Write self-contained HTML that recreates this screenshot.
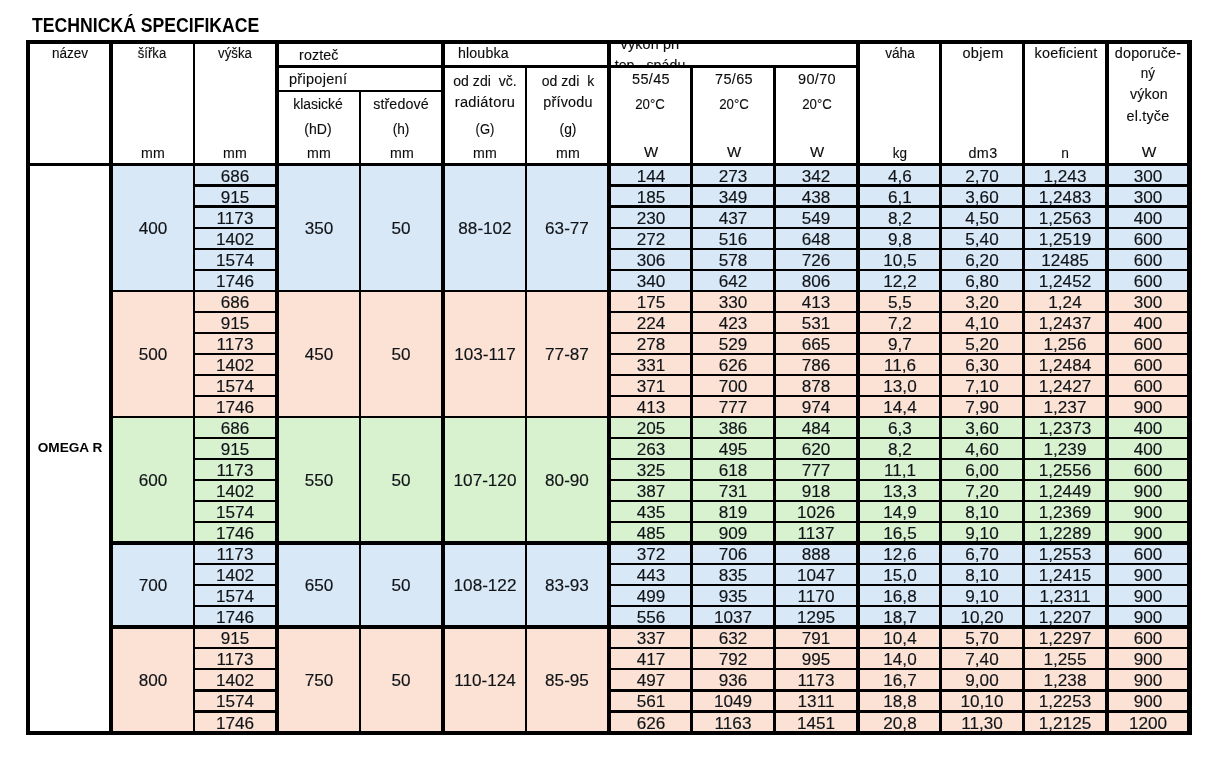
<!DOCTYPE html>
<html lang="cs">
<head>
<meta charset="utf-8">
<title>Technická specifikace</title>
<style>
html,body{margin:0;padding:0;background:#fff}
body{width:1232px;height:762px;position:relative;overflow:hidden;font-family:"Liberation Sans",sans-serif;color:#111}
#sheet{position:absolute;left:0;top:0;width:1232px;height:762px;will-change:transform}
i{position:absolute;display:block}
.t{position:absolute;display:block;font-weight:normal;font-style:normal;white-space:nowrap;color:#0c0c0c}
.t{-webkit-text-stroke:0.12px #0c0c0c}
.t.bd{font-weight:bold;color:#000;-webkit-text-stroke:0}
.t.d{color:#101418;-webkit-text-stroke:0.15px #101418}
.clip{position:absolute;overflow:hidden}
</style>
</head>
<body>
<div id="sheet">
<i style="left:113px;top:163px;width:1074px;height:128px;background:#d9e8f7"></i>
<i style="left:113px;top:290px;width:1074px;height:127px;background:#fce2d5"></i>
<i style="left:113px;top:416px;width:1074px;height:126px;background:#d8f1cf"></i>
<i style="left:113px;top:541px;width:1074px;height:85px;background:#d9e8f7"></i>
<i style="left:113px;top:625px;width:1074px;height:107px;background:#fce2d5"></i>
<i style="left:26px;top:40px;width:4px;height:695px;background:#000"></i>
<i style="left:109px;top:40px;width:4px;height:695px;background:#000"></i>
<i style="left:193px;top:40px;width:2px;height:695px;background:#000"></i>
<i style="left:275px;top:40px;width:4px;height:695px;background:#000"></i>
<i style="left:441px;top:40px;width:4px;height:695px;background:#000"></i>
<i style="left:607px;top:40px;width:4px;height:695px;background:#000"></i>
<i style="left:856px;top:40px;width:4px;height:695px;background:#000"></i>
<i style="left:939px;top:40px;width:3px;height:695px;background:#000"></i>
<i style="left:1022px;top:40px;width:3px;height:695px;background:#000"></i>
<i style="left:1105px;top:40px;width:4px;height:695px;background:#000"></i>
<i style="left:1187px;top:40px;width:5px;height:695px;background:#000"></i>
<i style="left:359px;top:92px;width:2px;height:641px;background:#000"></i>
<i style="left:525px;top:67px;width:2px;height:666px;background:#000"></i>
<i style="left:690px;top:67px;width:3px;height:666px;background:#000"></i>
<i style="left:773px;top:67px;width:3px;height:666px;background:#000"></i>
<i style="left:26px;top:40px;width:1166px;height:4px;background:#000"></i>
<i style="left:277px;top:65px;width:581px;height:3px;background:#000"></i>
<i style="left:277px;top:90px;width:166px;height:2px;background:#000"></i>
<i style="left:26px;top:163px;width:1166px;height:3px;background:#000"></i>
<i style="left:194px;top:184px;width:83px;height:3px;background:#000"></i>
<i style="left:609px;top:184px;width:581px;height:3px;background:#000"></i>
<i style="left:194px;top:205px;width:83px;height:3px;background:#000"></i>
<i style="left:609px;top:205px;width:581px;height:3px;background:#000"></i>
<i style="left:194px;top:227px;width:83px;height:2px;background:#000"></i>
<i style="left:609px;top:227px;width:581px;height:2px;background:#000"></i>
<i style="left:194px;top:248px;width:83px;height:2px;background:#000"></i>
<i style="left:609px;top:248px;width:581px;height:2px;background:#000"></i>
<i style="left:194px;top:269px;width:83px;height:2px;background:#000"></i>
<i style="left:609px;top:269px;width:581px;height:2px;background:#000"></i>
<i style="left:111px;top:290px;width:1079px;height:2px;background:#000"></i>
<i style="left:194px;top:311px;width:83px;height:2px;background:#000"></i>
<i style="left:609px;top:311px;width:581px;height:2px;background:#000"></i>
<i style="left:194px;top:332px;width:83px;height:2px;background:#000"></i>
<i style="left:609px;top:332px;width:581px;height:2px;background:#000"></i>
<i style="left:194px;top:353px;width:83px;height:2px;background:#000"></i>
<i style="left:609px;top:353px;width:581px;height:2px;background:#000"></i>
<i style="left:194px;top:374px;width:83px;height:2px;background:#000"></i>
<i style="left:609px;top:374px;width:581px;height:2px;background:#000"></i>
<i style="left:194px;top:395px;width:83px;height:2px;background:#000"></i>
<i style="left:609px;top:395px;width:581px;height:2px;background:#000"></i>
<i style="left:111px;top:416px;width:1079px;height:2px;background:#000"></i>
<i style="left:194px;top:437px;width:83px;height:2px;background:#000"></i>
<i style="left:609px;top:437px;width:581px;height:2px;background:#000"></i>
<i style="left:194px;top:458px;width:83px;height:2px;background:#000"></i>
<i style="left:609px;top:458px;width:581px;height:2px;background:#000"></i>
<i style="left:194px;top:479px;width:83px;height:2px;background:#000"></i>
<i style="left:609px;top:479px;width:581px;height:2px;background:#000"></i>
<i style="left:194px;top:500px;width:83px;height:2px;background:#000"></i>
<i style="left:609px;top:500px;width:581px;height:2px;background:#000"></i>
<i style="left:194px;top:521px;width:83px;height:2px;background:#000"></i>
<i style="left:609px;top:521px;width:581px;height:2px;background:#000"></i>
<i style="left:111px;top:541px;width:1079px;height:4px;background:#000"></i>
<i style="left:194px;top:563px;width:83px;height:2px;background:#000"></i>
<i style="left:609px;top:563px;width:581px;height:2px;background:#000"></i>
<i style="left:194px;top:584px;width:83px;height:2px;background:#000"></i>
<i style="left:609px;top:584px;width:581px;height:2px;background:#000"></i>
<i style="left:194px;top:605px;width:83px;height:2px;background:#000"></i>
<i style="left:609px;top:605px;width:581px;height:2px;background:#000"></i>
<i style="left:111px;top:625px;width:1079px;height:4px;background:#000"></i>
<i style="left:194px;top:647px;width:83px;height:2px;background:#000"></i>
<i style="left:609px;top:647px;width:581px;height:2px;background:#000"></i>
<i style="left:194px;top:668px;width:83px;height:2px;background:#000"></i>
<i style="left:609px;top:668px;width:581px;height:2px;background:#000"></i>
<i style="left:194px;top:689px;width:83px;height:3px;background:#000"></i>
<i style="left:609px;top:689px;width:581px;height:3px;background:#000"></i>
<i style="left:194px;top:710px;width:83px;height:3px;background:#000"></i>
<i style="left:609px;top:710px;width:581px;height:3px;background:#000"></i>
<i style="left:26px;top:731px;width:1166px;height:4px;background:#000"></i>
<b class="t bd" style="left:32.20px;top:13px;width:400px;font-size:20.4px;line-height:24px;text-align:left;transform:scaleX(0.865);transform-origin:left center">TECHNICKÁ SPECIFIKACE</b>
<b class="t " style="left:-10.20px;top:43px;width:160px;font-size:14.0px;line-height:20px;text-align:center;transform:scaleX(0.966);transform-origin:center center">název</b>
<b class="t " style="left:72.30px;top:43px;width:160px;font-size:14.0px;line-height:20px;text-align:center;transform:scaleX(0.938);transform-origin:center center">šířka</b>
<b class="t " style="left:155.40px;top:43px;width:160px;font-size:14.0px;line-height:20px;text-align:center;transform:scaleX(0.944);transform-origin:center center">výška</b>
<b class="t " style="left:298.90px;top:45px;width:160px;font-size:14.0px;line-height:20px;text-align:left;letter-spacing:0.14px;transform:scaleX(1.017);transform-origin:left center">rozteč</b>
<b class="t " style="left:458.20px;top:43px;width:160px;font-size:14.0px;line-height:20px;text-align:left;letter-spacing:0.13px;transform:scaleX(1.015);transform-origin:left center">hloubka</b>
<b class="t " style="left:289.20px;top:69px;width:160px;font-size:14.0px;line-height:20px;text-align:left;letter-spacing:0.27px;transform:scaleX(1.037);transform-origin:left center">připojení</b>
<b class="t " style="left:238.40px;top:94px;width:160px;font-size:14.0px;line-height:20px;text-align:center;transform:scaleX(0.993);transform-origin:center center">klasické</b>
<b class="t " style="left:321.47px;top:94px;width:160px;font-size:14.0px;line-height:20px;text-align:center;letter-spacing:0.13px;transform:scaleX(1.017);transform-origin:center center">středové</b>
<b class="t " style="left:238.41px;top:119px;width:160px;font-size:14.0px;line-height:20px;text-align:center;letter-spacing:0.02px;transform:scaleX(1.003);transform-origin:center center">(hD)</b>
<b class="t " style="left:321.40px;top:119px;width:160px;font-size:14.0px;line-height:20px;text-align:center;transform:scaleX(0.976);transform-origin:center center">(h)</b>
<b class="t " style="left:404.71px;top:71px;width:160px;font-size:14.0px;line-height:20px;text-align:center;letter-spacing:0.02px;transform:scaleX(1.003);transform-origin:center center">od zdi&nbsp; vč.</b>
<b class="t " style="left:487.61px;top:71px;width:160px;font-size:14.0px;line-height:20px;text-align:center;letter-spacing:0.02px;transform:scaleX(1.003);transform-origin:center center">od zdi&nbsp; k</b>
<b class="t " style="left:404.76px;top:92px;width:160px;font-size:14.0px;line-height:20px;text-align:center;letter-spacing:0.31px;transform:scaleX(1.043);transform-origin:center center">radiátoru</b>
<b class="t " style="left:487.70px;top:92px;width:160px;font-size:14.0px;line-height:20px;text-align:center;letter-spacing:0.2px;transform:scaleX(1.026);transform-origin:center center">přívodu</b>
<b class="t " style="left:404.60px;top:119px;width:160px;font-size:14.0px;line-height:20px;text-align:center;transform:scaleX(0.928);transform-origin:center center">(G)</b>
<b class="t " style="left:487.70px;top:119px;width:160px;font-size:14.0px;line-height:20px;text-align:center;transform:scaleX(0.988);transform-origin:center center">(g)</b>
<b class="t " style="left:72.64px;top:143px;width:160px;font-size:14.0px;line-height:20px;text-align:center;letter-spacing:0.28px;transform:scaleX(1.011);transform-origin:center center">mm</b>
<b class="t " style="left:155.34px;top:143px;width:160px;font-size:14.0px;line-height:20px;text-align:center;letter-spacing:0.28px;transform:scaleX(1.011);transform-origin:center center">mm</b>
<b class="t " style="left:238.74px;top:143px;width:160px;font-size:14.0px;line-height:20px;text-align:center;letter-spacing:0.28px;transform:scaleX(1.011);transform-origin:center center">mm</b>
<b class="t " style="left:321.54px;top:143px;width:160px;font-size:14.0px;line-height:20px;text-align:center;letter-spacing:0.28px;transform:scaleX(1.011);transform-origin:center center">mm</b>
<b class="t " style="left:404.74px;top:143px;width:160px;font-size:14.0px;line-height:20px;text-align:center;letter-spacing:0.28px;transform:scaleX(1.011);transform-origin:center center">mm</b>
<b class="t " style="left:487.74px;top:143px;width:160px;font-size:14.0px;line-height:20px;text-align:center;letter-spacing:0.28px;transform:scaleX(1.011);transform-origin:center center">mm</b>
<b class="t " style="left:570.57px;top:69px;width:160px;font-size:14.0px;line-height:20px;text-align:center;letter-spacing:0.33px;transform:scaleX(1.035);transform-origin:center center">55/45</b>
<b class="t " style="left:570.40px;top:94px;width:160px;font-size:14.0px;line-height:20px;text-align:center;transform:scaleX(0.947);transform-origin:center center">20°C</b>
<b class="t " style="left:570.70px;top:142px;width:160px;font-size:14.0px;line-height:20px;text-align:center;transform:scaleX(1.072);transform-origin:center center">W</b>
<b class="t " style="left:653.97px;top:69px;width:160px;font-size:14.0px;line-height:20px;text-align:center;letter-spacing:0.33px;transform:scaleX(1.035);transform-origin:center center">75/65</b>
<b class="t " style="left:653.80px;top:94px;width:160px;font-size:14.0px;line-height:20px;text-align:center;transform:scaleX(0.947);transform-origin:center center">20°C</b>
<b class="t " style="left:654.10px;top:142px;width:160px;font-size:14.0px;line-height:20px;text-align:center;transform:scaleX(1.072);transform-origin:center center">W</b>
<b class="t " style="left:736.67px;top:69px;width:160px;font-size:14.0px;line-height:20px;text-align:center;letter-spacing:0.33px;transform:scaleX(1.035);transform-origin:center center">90/70</b>
<b class="t " style="left:736.50px;top:94px;width:160px;font-size:14.0px;line-height:20px;text-align:center;transform:scaleX(0.947);transform-origin:center center">20°C</b>
<b class="t " style="left:736.80px;top:142px;width:160px;font-size:14.0px;line-height:20px;text-align:center;transform:scaleX(1.072);transform-origin:center center">W</b>
<b class="t " style="left:819.80px;top:43px;width:160px;font-size:14.0px;line-height:20px;text-align:center;transform:scaleX(0.977);transform-origin:center center">váha</b>
<b class="t " style="left:902.88px;top:43px;width:160px;font-size:14.0px;line-height:20px;text-align:center;letter-spacing:0.34px;transform:scaleX(1.035);transform-origin:center center">objem</b>
<b class="t " style="left:986.10px;top:43px;width:160px;font-size:14.0px;line-height:20px;text-align:center;letter-spacing:0.2px;transform:scaleX(1.029);transform-origin:center center">koeficient</b>
<b class="t " style="left:1068.10px;top:43px;width:160px;font-size:14.0px;line-height:20px;text-align:center;letter-spacing:0.2px;transform:scaleX(1.025);transform-origin:center center">doporuče-</b>
<b class="t " style="left:1068.00px;top:63px;width:160px;font-size:14.0px;line-height:20px;text-align:center;transform:scaleX(0.963);transform-origin:center center">ný</b>
<b class="t " style="left:1068.67px;top:84px;width:160px;font-size:14.0px;line-height:20px;text-align:center;letter-spacing:0.14px;transform:scaleX(1.015);transform-origin:center center">výkon</b>
<b class="t " style="left:1068.49px;top:106px;width:160px;font-size:14.0px;line-height:20px;text-align:center;letter-spacing:0.18px;transform:scaleX(1.025);transform-origin:center center">el.tyče</b>
<b class="t " style="left:819.70px;top:143px;width:160px;font-size:14.0px;line-height:20px;text-align:center;transform:scaleX(0.963);transform-origin:center center">kg</b>
<b class="t " style="left:902.97px;top:143px;width:160px;font-size:14.0px;line-height:20px;text-align:center;letter-spacing:0.34px;transform:scaleX(1.024);transform-origin:center center">dm3</b>
<b class="t " style="left:985.30px;top:143px;width:160px;font-size:14.0px;line-height:20px;text-align:center;transform:scaleX(0.981);transform-origin:center center">n</b>
<b class="t " style="left:1069.00px;top:142px;width:160px;font-size:14.0px;line-height:20px;text-align:center;transform:scaleX(1.102);transform-origin:center center">W</b>
<div class="clip" style="left:611px;top:44px;width:245px;height:21px">
<b class="t " style="left:-40.52px;top:-10px;width:160px;font-size:14.0px;line-height:20px;text-align:center;letter-spacing:0.16px;transform:scaleX(1.023);transform-origin:center center">výkon při</b>
<b class="t " style="left:-40.76px;top:11px;width:160px;font-size:14.0px;line-height:20px;text-align:center;letter-spacing:0.07px;transform:scaleX(1.009);transform-origin:center center">tep.&nbsp; spádu</b>
</div>
<b class="t bd" style="left:-10.10px;top:438px;width:160px;font-size:13.3px;line-height:20px;text-align:center;transform:scaleX(1.025);transform-origin:center center">OMEGA R</b>
<b class="t d" style="left:73.00px;top:219px;width:160px;font-size:16.0px;line-height:20px;text-align:center;transform:scaleX(1.07);transform-origin:center center">400</b>
<b class="t d" style="left:239.00px;top:219px;width:160px;font-size:16.0px;line-height:20px;text-align:center;transform:scaleX(1.07);transform-origin:center center">350</b>
<b class="t d" style="left:321.00px;top:219px;width:160px;font-size:16.0px;line-height:20px;text-align:center;transform:scaleX(1.07);transform-origin:center center">50</b>
<b class="t d" style="left:405.00px;top:219px;width:160px;font-size:16.0px;line-height:20px;text-align:center;transform:scaleX(1.07);transform-origin:center center">88-102</b>
<b class="t d" style="left:487.00px;top:219px;width:160px;font-size:16.0px;line-height:20px;text-align:center;transform:scaleX(1.07);transform-origin:center center">63-77</b>
<b class="t d" style="left:155.00px;top:167px;width:160px;font-size:16.0px;line-height:20px;text-align:center;transform:scaleX(1.07);transform-origin:center center">686</b>
<b class="t d" style="left:570.50px;top:167px;width:160px;font-size:16.0px;line-height:20px;text-align:center;transform:scaleX(1.07);transform-origin:center center">144</b>
<b class="t d" style="left:653.00px;top:167px;width:160px;font-size:16.0px;line-height:20px;text-align:center;transform:scaleX(1.07);transform-origin:center center">273</b>
<b class="t d" style="left:736.00px;top:167px;width:160px;font-size:16.0px;line-height:20px;text-align:center;transform:scaleX(1.07);transform-origin:center center">342</b>
<b class="t d" style="left:819.50px;top:167px;width:160px;font-size:16.0px;line-height:20px;text-align:center;transform:scaleX(1.07);transform-origin:center center">4,6</b>
<b class="t d" style="left:902.00px;top:167px;width:160px;font-size:16.0px;line-height:20px;text-align:center;transform:scaleX(1.07);transform-origin:center center">2,70</b>
<b class="t d" style="left:985.00px;top:167px;width:160px;font-size:16.0px;line-height:20px;text-align:center;transform:scaleX(1.07);transform-origin:center center">1,243</b>
<b class="t d" style="left:1068.00px;top:167px;width:160px;font-size:16.0px;line-height:20px;text-align:center;transform:scaleX(1.07);transform-origin:center center">300</b>
<b class="t d" style="left:155.00px;top:188px;width:160px;font-size:16.0px;line-height:20px;text-align:center;transform:scaleX(1.07);transform-origin:center center">915</b>
<b class="t d" style="left:570.50px;top:188px;width:160px;font-size:16.0px;line-height:20px;text-align:center;transform:scaleX(1.07);transform-origin:center center">185</b>
<b class="t d" style="left:653.00px;top:188px;width:160px;font-size:16.0px;line-height:20px;text-align:center;transform:scaleX(1.07);transform-origin:center center">349</b>
<b class="t d" style="left:736.00px;top:188px;width:160px;font-size:16.0px;line-height:20px;text-align:center;transform:scaleX(1.07);transform-origin:center center">438</b>
<b class="t d" style="left:819.50px;top:188px;width:160px;font-size:16.0px;line-height:20px;text-align:center;transform:scaleX(1.07);transform-origin:center center">6,1</b>
<b class="t d" style="left:902.00px;top:188px;width:160px;font-size:16.0px;line-height:20px;text-align:center;transform:scaleX(1.07);transform-origin:center center">3,60</b>
<b class="t d" style="left:985.00px;top:188px;width:160px;font-size:16.0px;line-height:20px;text-align:center;transform:scaleX(1.07);transform-origin:center center">1,2483</b>
<b class="t d" style="left:1068.00px;top:188px;width:160px;font-size:16.0px;line-height:20px;text-align:center;transform:scaleX(1.07);transform-origin:center center">300</b>
<b class="t d" style="left:155.00px;top:209px;width:160px;font-size:16.0px;line-height:20px;text-align:center;transform:scaleX(1.07);transform-origin:center center">1173</b>
<b class="t d" style="left:570.50px;top:209px;width:160px;font-size:16.0px;line-height:20px;text-align:center;transform:scaleX(1.07);transform-origin:center center">230</b>
<b class="t d" style="left:653.00px;top:209px;width:160px;font-size:16.0px;line-height:20px;text-align:center;transform:scaleX(1.07);transform-origin:center center">437</b>
<b class="t d" style="left:736.00px;top:209px;width:160px;font-size:16.0px;line-height:20px;text-align:center;transform:scaleX(1.07);transform-origin:center center">549</b>
<b class="t d" style="left:819.50px;top:209px;width:160px;font-size:16.0px;line-height:20px;text-align:center;transform:scaleX(1.07);transform-origin:center center">8,2</b>
<b class="t d" style="left:902.00px;top:209px;width:160px;font-size:16.0px;line-height:20px;text-align:center;transform:scaleX(1.07);transform-origin:center center">4,50</b>
<b class="t d" style="left:985.00px;top:209px;width:160px;font-size:16.0px;line-height:20px;text-align:center;transform:scaleX(1.07);transform-origin:center center">1,2563</b>
<b class="t d" style="left:1068.00px;top:209px;width:160px;font-size:16.0px;line-height:20px;text-align:center;transform:scaleX(1.07);transform-origin:center center">400</b>
<b class="t d" style="left:155.00px;top:230px;width:160px;font-size:16.0px;line-height:20px;text-align:center;transform:scaleX(1.07);transform-origin:center center">1402</b>
<b class="t d" style="left:570.50px;top:230px;width:160px;font-size:16.0px;line-height:20px;text-align:center;transform:scaleX(1.07);transform-origin:center center">272</b>
<b class="t d" style="left:653.00px;top:230px;width:160px;font-size:16.0px;line-height:20px;text-align:center;transform:scaleX(1.07);transform-origin:center center">516</b>
<b class="t d" style="left:736.00px;top:230px;width:160px;font-size:16.0px;line-height:20px;text-align:center;transform:scaleX(1.07);transform-origin:center center">648</b>
<b class="t d" style="left:819.50px;top:230px;width:160px;font-size:16.0px;line-height:20px;text-align:center;transform:scaleX(1.07);transform-origin:center center">9,8</b>
<b class="t d" style="left:902.00px;top:230px;width:160px;font-size:16.0px;line-height:20px;text-align:center;transform:scaleX(1.07);transform-origin:center center">5,40</b>
<b class="t d" style="left:985.00px;top:230px;width:160px;font-size:16.0px;line-height:20px;text-align:center;transform:scaleX(1.07);transform-origin:center center">1,2519</b>
<b class="t d" style="left:1068.00px;top:230px;width:160px;font-size:16.0px;line-height:20px;text-align:center;transform:scaleX(1.07);transform-origin:center center">600</b>
<b class="t d" style="left:155.00px;top:251px;width:160px;font-size:16.0px;line-height:20px;text-align:center;transform:scaleX(1.07);transform-origin:center center">1574</b>
<b class="t d" style="left:570.50px;top:251px;width:160px;font-size:16.0px;line-height:20px;text-align:center;transform:scaleX(1.07);transform-origin:center center">306</b>
<b class="t d" style="left:653.00px;top:251px;width:160px;font-size:16.0px;line-height:20px;text-align:center;transform:scaleX(1.07);transform-origin:center center">578</b>
<b class="t d" style="left:736.00px;top:251px;width:160px;font-size:16.0px;line-height:20px;text-align:center;transform:scaleX(1.07);transform-origin:center center">726</b>
<b class="t d" style="left:819.50px;top:251px;width:160px;font-size:16.0px;line-height:20px;text-align:center;transform:scaleX(1.07);transform-origin:center center">10,5</b>
<b class="t d" style="left:902.00px;top:251px;width:160px;font-size:16.0px;line-height:20px;text-align:center;transform:scaleX(1.07);transform-origin:center center">6,20</b>
<b class="t d" style="left:985.00px;top:251px;width:160px;font-size:16.0px;line-height:20px;text-align:center;transform:scaleX(1.07);transform-origin:center center">12485</b>
<b class="t d" style="left:1068.00px;top:251px;width:160px;font-size:16.0px;line-height:20px;text-align:center;transform:scaleX(1.07);transform-origin:center center">600</b>
<b class="t d" style="left:155.00px;top:272px;width:160px;font-size:16.0px;line-height:20px;text-align:center;transform:scaleX(1.07);transform-origin:center center">1746</b>
<b class="t d" style="left:570.50px;top:272px;width:160px;font-size:16.0px;line-height:20px;text-align:center;transform:scaleX(1.07);transform-origin:center center">340</b>
<b class="t d" style="left:653.00px;top:272px;width:160px;font-size:16.0px;line-height:20px;text-align:center;transform:scaleX(1.07);transform-origin:center center">642</b>
<b class="t d" style="left:736.00px;top:272px;width:160px;font-size:16.0px;line-height:20px;text-align:center;transform:scaleX(1.07);transform-origin:center center">806</b>
<b class="t d" style="left:819.50px;top:272px;width:160px;font-size:16.0px;line-height:20px;text-align:center;transform:scaleX(1.07);transform-origin:center center">12,2</b>
<b class="t d" style="left:902.00px;top:272px;width:160px;font-size:16.0px;line-height:20px;text-align:center;transform:scaleX(1.07);transform-origin:center center">6,80</b>
<b class="t d" style="left:985.00px;top:272px;width:160px;font-size:16.0px;line-height:20px;text-align:center;transform:scaleX(1.07);transform-origin:center center">1,2452</b>
<b class="t d" style="left:1068.00px;top:272px;width:160px;font-size:16.0px;line-height:20px;text-align:center;transform:scaleX(1.07);transform-origin:center center">600</b>
<b class="t d" style="left:73.00px;top:345px;width:160px;font-size:16.0px;line-height:20px;text-align:center;transform:scaleX(1.07);transform-origin:center center">500</b>
<b class="t d" style="left:239.00px;top:345px;width:160px;font-size:16.0px;line-height:20px;text-align:center;transform:scaleX(1.07);transform-origin:center center">450</b>
<b class="t d" style="left:321.00px;top:345px;width:160px;font-size:16.0px;line-height:20px;text-align:center;transform:scaleX(1.07);transform-origin:center center">50</b>
<b class="t d" style="left:405.00px;top:345px;width:160px;font-size:16.0px;line-height:20px;text-align:center;transform:scaleX(1.07);transform-origin:center center">103-117</b>
<b class="t d" style="left:487.00px;top:345px;width:160px;font-size:16.0px;line-height:20px;text-align:center;transform:scaleX(1.07);transform-origin:center center">77-87</b>
<b class="t d" style="left:155.00px;top:293px;width:160px;font-size:16.0px;line-height:20px;text-align:center;transform:scaleX(1.07);transform-origin:center center">686</b>
<b class="t d" style="left:570.50px;top:293px;width:160px;font-size:16.0px;line-height:20px;text-align:center;transform:scaleX(1.07);transform-origin:center center">175</b>
<b class="t d" style="left:653.00px;top:293px;width:160px;font-size:16.0px;line-height:20px;text-align:center;transform:scaleX(1.07);transform-origin:center center">330</b>
<b class="t d" style="left:736.00px;top:293px;width:160px;font-size:16.0px;line-height:20px;text-align:center;transform:scaleX(1.07);transform-origin:center center">413</b>
<b class="t d" style="left:819.50px;top:293px;width:160px;font-size:16.0px;line-height:20px;text-align:center;transform:scaleX(1.07);transform-origin:center center">5,5</b>
<b class="t d" style="left:902.00px;top:293px;width:160px;font-size:16.0px;line-height:20px;text-align:center;transform:scaleX(1.07);transform-origin:center center">3,20</b>
<b class="t d" style="left:985.00px;top:293px;width:160px;font-size:16.0px;line-height:20px;text-align:center;transform:scaleX(1.07);transform-origin:center center">1,24</b>
<b class="t d" style="left:1068.00px;top:293px;width:160px;font-size:16.0px;line-height:20px;text-align:center;transform:scaleX(1.07);transform-origin:center center">300</b>
<b class="t d" style="left:155.00px;top:314px;width:160px;font-size:16.0px;line-height:20px;text-align:center;transform:scaleX(1.07);transform-origin:center center">915</b>
<b class="t d" style="left:570.50px;top:314px;width:160px;font-size:16.0px;line-height:20px;text-align:center;transform:scaleX(1.07);transform-origin:center center">224</b>
<b class="t d" style="left:653.00px;top:314px;width:160px;font-size:16.0px;line-height:20px;text-align:center;transform:scaleX(1.07);transform-origin:center center">423</b>
<b class="t d" style="left:736.00px;top:314px;width:160px;font-size:16.0px;line-height:20px;text-align:center;transform:scaleX(1.07);transform-origin:center center">531</b>
<b class="t d" style="left:819.50px;top:314px;width:160px;font-size:16.0px;line-height:20px;text-align:center;transform:scaleX(1.07);transform-origin:center center">7,2</b>
<b class="t d" style="left:902.00px;top:314px;width:160px;font-size:16.0px;line-height:20px;text-align:center;transform:scaleX(1.07);transform-origin:center center">4,10</b>
<b class="t d" style="left:985.00px;top:314px;width:160px;font-size:16.0px;line-height:20px;text-align:center;transform:scaleX(1.07);transform-origin:center center">1,2437</b>
<b class="t d" style="left:1068.00px;top:314px;width:160px;font-size:16.0px;line-height:20px;text-align:center;transform:scaleX(1.07);transform-origin:center center">400</b>
<b class="t d" style="left:155.00px;top:335px;width:160px;font-size:16.0px;line-height:20px;text-align:center;transform:scaleX(1.07);transform-origin:center center">1173</b>
<b class="t d" style="left:570.50px;top:335px;width:160px;font-size:16.0px;line-height:20px;text-align:center;transform:scaleX(1.07);transform-origin:center center">278</b>
<b class="t d" style="left:653.00px;top:335px;width:160px;font-size:16.0px;line-height:20px;text-align:center;transform:scaleX(1.07);transform-origin:center center">529</b>
<b class="t d" style="left:736.00px;top:335px;width:160px;font-size:16.0px;line-height:20px;text-align:center;transform:scaleX(1.07);transform-origin:center center">665</b>
<b class="t d" style="left:819.50px;top:335px;width:160px;font-size:16.0px;line-height:20px;text-align:center;transform:scaleX(1.07);transform-origin:center center">9,7</b>
<b class="t d" style="left:902.00px;top:335px;width:160px;font-size:16.0px;line-height:20px;text-align:center;transform:scaleX(1.07);transform-origin:center center">5,20</b>
<b class="t d" style="left:985.00px;top:335px;width:160px;font-size:16.0px;line-height:20px;text-align:center;transform:scaleX(1.07);transform-origin:center center">1,256</b>
<b class="t d" style="left:1068.00px;top:335px;width:160px;font-size:16.0px;line-height:20px;text-align:center;transform:scaleX(1.07);transform-origin:center center">600</b>
<b class="t d" style="left:155.00px;top:356px;width:160px;font-size:16.0px;line-height:20px;text-align:center;transform:scaleX(1.07);transform-origin:center center">1402</b>
<b class="t d" style="left:570.50px;top:356px;width:160px;font-size:16.0px;line-height:20px;text-align:center;transform:scaleX(1.07);transform-origin:center center">331</b>
<b class="t d" style="left:653.00px;top:356px;width:160px;font-size:16.0px;line-height:20px;text-align:center;transform:scaleX(1.07);transform-origin:center center">626</b>
<b class="t d" style="left:736.00px;top:356px;width:160px;font-size:16.0px;line-height:20px;text-align:center;transform:scaleX(1.07);transform-origin:center center">786</b>
<b class="t d" style="left:819.50px;top:356px;width:160px;font-size:16.0px;line-height:20px;text-align:center;transform:scaleX(1.07);transform-origin:center center">11,6</b>
<b class="t d" style="left:902.00px;top:356px;width:160px;font-size:16.0px;line-height:20px;text-align:center;transform:scaleX(1.07);transform-origin:center center">6,30</b>
<b class="t d" style="left:985.00px;top:356px;width:160px;font-size:16.0px;line-height:20px;text-align:center;transform:scaleX(1.07);transform-origin:center center">1,2484</b>
<b class="t d" style="left:1068.00px;top:356px;width:160px;font-size:16.0px;line-height:20px;text-align:center;transform:scaleX(1.07);transform-origin:center center">600</b>
<b class="t d" style="left:155.00px;top:377px;width:160px;font-size:16.0px;line-height:20px;text-align:center;transform:scaleX(1.07);transform-origin:center center">1574</b>
<b class="t d" style="left:570.50px;top:377px;width:160px;font-size:16.0px;line-height:20px;text-align:center;transform:scaleX(1.07);transform-origin:center center">371</b>
<b class="t d" style="left:653.00px;top:377px;width:160px;font-size:16.0px;line-height:20px;text-align:center;transform:scaleX(1.07);transform-origin:center center">700</b>
<b class="t d" style="left:736.00px;top:377px;width:160px;font-size:16.0px;line-height:20px;text-align:center;transform:scaleX(1.07);transform-origin:center center">878</b>
<b class="t d" style="left:819.50px;top:377px;width:160px;font-size:16.0px;line-height:20px;text-align:center;transform:scaleX(1.07);transform-origin:center center">13,0</b>
<b class="t d" style="left:902.00px;top:377px;width:160px;font-size:16.0px;line-height:20px;text-align:center;transform:scaleX(1.07);transform-origin:center center">7,10</b>
<b class="t d" style="left:985.00px;top:377px;width:160px;font-size:16.0px;line-height:20px;text-align:center;transform:scaleX(1.07);transform-origin:center center">1,2427</b>
<b class="t d" style="left:1068.00px;top:377px;width:160px;font-size:16.0px;line-height:20px;text-align:center;transform:scaleX(1.07);transform-origin:center center">600</b>
<b class="t d" style="left:155.00px;top:398px;width:160px;font-size:16.0px;line-height:20px;text-align:center;transform:scaleX(1.07);transform-origin:center center">1746</b>
<b class="t d" style="left:570.50px;top:398px;width:160px;font-size:16.0px;line-height:20px;text-align:center;transform:scaleX(1.07);transform-origin:center center">413</b>
<b class="t d" style="left:653.00px;top:398px;width:160px;font-size:16.0px;line-height:20px;text-align:center;transform:scaleX(1.07);transform-origin:center center">777</b>
<b class="t d" style="left:736.00px;top:398px;width:160px;font-size:16.0px;line-height:20px;text-align:center;transform:scaleX(1.07);transform-origin:center center">974</b>
<b class="t d" style="left:819.50px;top:398px;width:160px;font-size:16.0px;line-height:20px;text-align:center;transform:scaleX(1.07);transform-origin:center center">14,4</b>
<b class="t d" style="left:902.00px;top:398px;width:160px;font-size:16.0px;line-height:20px;text-align:center;transform:scaleX(1.07);transform-origin:center center">7,90</b>
<b class="t d" style="left:985.00px;top:398px;width:160px;font-size:16.0px;line-height:20px;text-align:center;transform:scaleX(1.07);transform-origin:center center">1,237</b>
<b class="t d" style="left:1068.00px;top:398px;width:160px;font-size:16.0px;line-height:20px;text-align:center;transform:scaleX(1.07);transform-origin:center center">900</b>
<b class="t d" style="left:73.00px;top:471px;width:160px;font-size:16.0px;line-height:20px;text-align:center;transform:scaleX(1.07);transform-origin:center center">600</b>
<b class="t d" style="left:239.00px;top:471px;width:160px;font-size:16.0px;line-height:20px;text-align:center;transform:scaleX(1.07);transform-origin:center center">550</b>
<b class="t d" style="left:321.00px;top:471px;width:160px;font-size:16.0px;line-height:20px;text-align:center;transform:scaleX(1.07);transform-origin:center center">50</b>
<b class="t d" style="left:405.00px;top:471px;width:160px;font-size:16.0px;line-height:20px;text-align:center;transform:scaleX(1.07);transform-origin:center center">107-120</b>
<b class="t d" style="left:487.00px;top:471px;width:160px;font-size:16.0px;line-height:20px;text-align:center;transform:scaleX(1.07);transform-origin:center center">80-90</b>
<b class="t d" style="left:155.00px;top:419px;width:160px;font-size:16.0px;line-height:20px;text-align:center;transform:scaleX(1.07);transform-origin:center center">686</b>
<b class="t d" style="left:570.50px;top:419px;width:160px;font-size:16.0px;line-height:20px;text-align:center;transform:scaleX(1.07);transform-origin:center center">205</b>
<b class="t d" style="left:653.00px;top:419px;width:160px;font-size:16.0px;line-height:20px;text-align:center;transform:scaleX(1.07);transform-origin:center center">386</b>
<b class="t d" style="left:736.00px;top:419px;width:160px;font-size:16.0px;line-height:20px;text-align:center;transform:scaleX(1.07);transform-origin:center center">484</b>
<b class="t d" style="left:819.50px;top:419px;width:160px;font-size:16.0px;line-height:20px;text-align:center;transform:scaleX(1.07);transform-origin:center center">6,3</b>
<b class="t d" style="left:902.00px;top:419px;width:160px;font-size:16.0px;line-height:20px;text-align:center;transform:scaleX(1.07);transform-origin:center center">3,60</b>
<b class="t d" style="left:985.00px;top:419px;width:160px;font-size:16.0px;line-height:20px;text-align:center;transform:scaleX(1.07);transform-origin:center center">1,2373</b>
<b class="t d" style="left:1068.00px;top:419px;width:160px;font-size:16.0px;line-height:20px;text-align:center;transform:scaleX(1.07);transform-origin:center center">400</b>
<b class="t d" style="left:155.00px;top:440px;width:160px;font-size:16.0px;line-height:20px;text-align:center;transform:scaleX(1.07);transform-origin:center center">915</b>
<b class="t d" style="left:570.50px;top:440px;width:160px;font-size:16.0px;line-height:20px;text-align:center;transform:scaleX(1.07);transform-origin:center center">263</b>
<b class="t d" style="left:653.00px;top:440px;width:160px;font-size:16.0px;line-height:20px;text-align:center;transform:scaleX(1.07);transform-origin:center center">495</b>
<b class="t d" style="left:736.00px;top:440px;width:160px;font-size:16.0px;line-height:20px;text-align:center;transform:scaleX(1.07);transform-origin:center center">620</b>
<b class="t d" style="left:819.50px;top:440px;width:160px;font-size:16.0px;line-height:20px;text-align:center;transform:scaleX(1.07);transform-origin:center center">8,2</b>
<b class="t d" style="left:902.00px;top:440px;width:160px;font-size:16.0px;line-height:20px;text-align:center;transform:scaleX(1.07);transform-origin:center center">4,60</b>
<b class="t d" style="left:985.00px;top:440px;width:160px;font-size:16.0px;line-height:20px;text-align:center;transform:scaleX(1.07);transform-origin:center center">1,239</b>
<b class="t d" style="left:1068.00px;top:440px;width:160px;font-size:16.0px;line-height:20px;text-align:center;transform:scaleX(1.07);transform-origin:center center">400</b>
<b class="t d" style="left:155.00px;top:461px;width:160px;font-size:16.0px;line-height:20px;text-align:center;transform:scaleX(1.07);transform-origin:center center">1173</b>
<b class="t d" style="left:570.50px;top:461px;width:160px;font-size:16.0px;line-height:20px;text-align:center;transform:scaleX(1.07);transform-origin:center center">325</b>
<b class="t d" style="left:653.00px;top:461px;width:160px;font-size:16.0px;line-height:20px;text-align:center;transform:scaleX(1.07);transform-origin:center center">618</b>
<b class="t d" style="left:736.00px;top:461px;width:160px;font-size:16.0px;line-height:20px;text-align:center;transform:scaleX(1.07);transform-origin:center center">777</b>
<b class="t d" style="left:819.50px;top:461px;width:160px;font-size:16.0px;line-height:20px;text-align:center;transform:scaleX(1.07);transform-origin:center center">11,1</b>
<b class="t d" style="left:902.00px;top:461px;width:160px;font-size:16.0px;line-height:20px;text-align:center;transform:scaleX(1.07);transform-origin:center center">6,00</b>
<b class="t d" style="left:985.00px;top:461px;width:160px;font-size:16.0px;line-height:20px;text-align:center;transform:scaleX(1.07);transform-origin:center center">1,2556</b>
<b class="t d" style="left:1068.00px;top:461px;width:160px;font-size:16.0px;line-height:20px;text-align:center;transform:scaleX(1.07);transform-origin:center center">600</b>
<b class="t d" style="left:155.00px;top:482px;width:160px;font-size:16.0px;line-height:20px;text-align:center;transform:scaleX(1.07);transform-origin:center center">1402</b>
<b class="t d" style="left:570.50px;top:482px;width:160px;font-size:16.0px;line-height:20px;text-align:center;transform:scaleX(1.07);transform-origin:center center">387</b>
<b class="t d" style="left:653.00px;top:482px;width:160px;font-size:16.0px;line-height:20px;text-align:center;transform:scaleX(1.07);transform-origin:center center">731</b>
<b class="t d" style="left:736.00px;top:482px;width:160px;font-size:16.0px;line-height:20px;text-align:center;transform:scaleX(1.07);transform-origin:center center">918</b>
<b class="t d" style="left:819.50px;top:482px;width:160px;font-size:16.0px;line-height:20px;text-align:center;transform:scaleX(1.07);transform-origin:center center">13,3</b>
<b class="t d" style="left:902.00px;top:482px;width:160px;font-size:16.0px;line-height:20px;text-align:center;transform:scaleX(1.07);transform-origin:center center">7,20</b>
<b class="t d" style="left:985.00px;top:482px;width:160px;font-size:16.0px;line-height:20px;text-align:center;transform:scaleX(1.07);transform-origin:center center">1,2449</b>
<b class="t d" style="left:1068.00px;top:482px;width:160px;font-size:16.0px;line-height:20px;text-align:center;transform:scaleX(1.07);transform-origin:center center">900</b>
<b class="t d" style="left:155.00px;top:503px;width:160px;font-size:16.0px;line-height:20px;text-align:center;transform:scaleX(1.07);transform-origin:center center">1574</b>
<b class="t d" style="left:570.50px;top:503px;width:160px;font-size:16.0px;line-height:20px;text-align:center;transform:scaleX(1.07);transform-origin:center center">435</b>
<b class="t d" style="left:653.00px;top:503px;width:160px;font-size:16.0px;line-height:20px;text-align:center;transform:scaleX(1.07);transform-origin:center center">819</b>
<b class="t d" style="left:736.00px;top:503px;width:160px;font-size:16.0px;line-height:20px;text-align:center;transform:scaleX(1.07);transform-origin:center center">1026</b>
<b class="t d" style="left:819.50px;top:503px;width:160px;font-size:16.0px;line-height:20px;text-align:center;transform:scaleX(1.07);transform-origin:center center">14,9</b>
<b class="t d" style="left:902.00px;top:503px;width:160px;font-size:16.0px;line-height:20px;text-align:center;transform:scaleX(1.07);transform-origin:center center">8,10</b>
<b class="t d" style="left:985.00px;top:503px;width:160px;font-size:16.0px;line-height:20px;text-align:center;transform:scaleX(1.07);transform-origin:center center">1,2369</b>
<b class="t d" style="left:1068.00px;top:503px;width:160px;font-size:16.0px;line-height:20px;text-align:center;transform:scaleX(1.07);transform-origin:center center">900</b>
<b class="t d" style="left:155.00px;top:524px;width:160px;font-size:16.0px;line-height:20px;text-align:center;transform:scaleX(1.07);transform-origin:center center">1746</b>
<b class="t d" style="left:570.50px;top:524px;width:160px;font-size:16.0px;line-height:20px;text-align:center;transform:scaleX(1.07);transform-origin:center center">485</b>
<b class="t d" style="left:653.00px;top:524px;width:160px;font-size:16.0px;line-height:20px;text-align:center;transform:scaleX(1.07);transform-origin:center center">909</b>
<b class="t d" style="left:736.00px;top:524px;width:160px;font-size:16.0px;line-height:20px;text-align:center;transform:scaleX(1.07);transform-origin:center center">1137</b>
<b class="t d" style="left:819.50px;top:524px;width:160px;font-size:16.0px;line-height:20px;text-align:center;transform:scaleX(1.07);transform-origin:center center">16,5</b>
<b class="t d" style="left:902.00px;top:524px;width:160px;font-size:16.0px;line-height:20px;text-align:center;transform:scaleX(1.07);transform-origin:center center">9,10</b>
<b class="t d" style="left:985.00px;top:524px;width:160px;font-size:16.0px;line-height:20px;text-align:center;transform:scaleX(1.07);transform-origin:center center">1,2289</b>
<b class="t d" style="left:1068.00px;top:524px;width:160px;font-size:16.0px;line-height:20px;text-align:center;transform:scaleX(1.07);transform-origin:center center">900</b>
<b class="t d" style="left:73.00px;top:576px;width:160px;font-size:16.0px;line-height:20px;text-align:center;transform:scaleX(1.07);transform-origin:center center">700</b>
<b class="t d" style="left:239.00px;top:576px;width:160px;font-size:16.0px;line-height:20px;text-align:center;transform:scaleX(1.07);transform-origin:center center">650</b>
<b class="t d" style="left:321.00px;top:576px;width:160px;font-size:16.0px;line-height:20px;text-align:center;transform:scaleX(1.07);transform-origin:center center">50</b>
<b class="t d" style="left:405.00px;top:576px;width:160px;font-size:16.0px;line-height:20px;text-align:center;transform:scaleX(1.07);transform-origin:center center">108-122</b>
<b class="t d" style="left:487.00px;top:576px;width:160px;font-size:16.0px;line-height:20px;text-align:center;transform:scaleX(1.07);transform-origin:center center">83-93</b>
<b class="t d" style="left:155.00px;top:545px;width:160px;font-size:16.0px;line-height:20px;text-align:center;transform:scaleX(1.07);transform-origin:center center">1173</b>
<b class="t d" style="left:570.50px;top:545px;width:160px;font-size:16.0px;line-height:20px;text-align:center;transform:scaleX(1.07);transform-origin:center center">372</b>
<b class="t d" style="left:653.00px;top:545px;width:160px;font-size:16.0px;line-height:20px;text-align:center;transform:scaleX(1.07);transform-origin:center center">706</b>
<b class="t d" style="left:736.00px;top:545px;width:160px;font-size:16.0px;line-height:20px;text-align:center;transform:scaleX(1.07);transform-origin:center center">888</b>
<b class="t d" style="left:819.50px;top:545px;width:160px;font-size:16.0px;line-height:20px;text-align:center;transform:scaleX(1.07);transform-origin:center center">12,6</b>
<b class="t d" style="left:902.00px;top:545px;width:160px;font-size:16.0px;line-height:20px;text-align:center;transform:scaleX(1.07);transform-origin:center center">6,70</b>
<b class="t d" style="left:985.00px;top:545px;width:160px;font-size:16.0px;line-height:20px;text-align:center;transform:scaleX(1.07);transform-origin:center center">1,2553</b>
<b class="t d" style="left:1068.00px;top:545px;width:160px;font-size:16.0px;line-height:20px;text-align:center;transform:scaleX(1.07);transform-origin:center center">600</b>
<b class="t d" style="left:155.00px;top:566px;width:160px;font-size:16.0px;line-height:20px;text-align:center;transform:scaleX(1.07);transform-origin:center center">1402</b>
<b class="t d" style="left:570.50px;top:566px;width:160px;font-size:16.0px;line-height:20px;text-align:center;transform:scaleX(1.07);transform-origin:center center">443</b>
<b class="t d" style="left:653.00px;top:566px;width:160px;font-size:16.0px;line-height:20px;text-align:center;transform:scaleX(1.07);transform-origin:center center">835</b>
<b class="t d" style="left:736.00px;top:566px;width:160px;font-size:16.0px;line-height:20px;text-align:center;transform:scaleX(1.07);transform-origin:center center">1047</b>
<b class="t d" style="left:819.50px;top:566px;width:160px;font-size:16.0px;line-height:20px;text-align:center;transform:scaleX(1.07);transform-origin:center center">15,0</b>
<b class="t d" style="left:902.00px;top:566px;width:160px;font-size:16.0px;line-height:20px;text-align:center;transform:scaleX(1.07);transform-origin:center center">8,10</b>
<b class="t d" style="left:985.00px;top:566px;width:160px;font-size:16.0px;line-height:20px;text-align:center;transform:scaleX(1.07);transform-origin:center center">1,2415</b>
<b class="t d" style="left:1068.00px;top:566px;width:160px;font-size:16.0px;line-height:20px;text-align:center;transform:scaleX(1.07);transform-origin:center center">900</b>
<b class="t d" style="left:155.00px;top:587px;width:160px;font-size:16.0px;line-height:20px;text-align:center;transform:scaleX(1.07);transform-origin:center center">1574</b>
<b class="t d" style="left:570.50px;top:587px;width:160px;font-size:16.0px;line-height:20px;text-align:center;transform:scaleX(1.07);transform-origin:center center">499</b>
<b class="t d" style="left:653.00px;top:587px;width:160px;font-size:16.0px;line-height:20px;text-align:center;transform:scaleX(1.07);transform-origin:center center">935</b>
<b class="t d" style="left:736.00px;top:587px;width:160px;font-size:16.0px;line-height:20px;text-align:center;transform:scaleX(1.07);transform-origin:center center">1170</b>
<b class="t d" style="left:819.50px;top:587px;width:160px;font-size:16.0px;line-height:20px;text-align:center;transform:scaleX(1.07);transform-origin:center center">16,8</b>
<b class="t d" style="left:902.00px;top:587px;width:160px;font-size:16.0px;line-height:20px;text-align:center;transform:scaleX(1.07);transform-origin:center center">9,10</b>
<b class="t d" style="left:985.00px;top:587px;width:160px;font-size:16.0px;line-height:20px;text-align:center;transform:scaleX(1.07);transform-origin:center center">1,2311</b>
<b class="t d" style="left:1068.00px;top:587px;width:160px;font-size:16.0px;line-height:20px;text-align:center;transform:scaleX(1.07);transform-origin:center center">900</b>
<b class="t d" style="left:155.00px;top:608px;width:160px;font-size:16.0px;line-height:20px;text-align:center;transform:scaleX(1.07);transform-origin:center center">1746</b>
<b class="t d" style="left:570.50px;top:608px;width:160px;font-size:16.0px;line-height:20px;text-align:center;transform:scaleX(1.07);transform-origin:center center">556</b>
<b class="t d" style="left:653.00px;top:608px;width:160px;font-size:16.0px;line-height:20px;text-align:center;transform:scaleX(1.07);transform-origin:center center">1037</b>
<b class="t d" style="left:736.00px;top:608px;width:160px;font-size:16.0px;line-height:20px;text-align:center;transform:scaleX(1.07);transform-origin:center center">1295</b>
<b class="t d" style="left:819.50px;top:608px;width:160px;font-size:16.0px;line-height:20px;text-align:center;transform:scaleX(1.07);transform-origin:center center">18,7</b>
<b class="t d" style="left:902.00px;top:608px;width:160px;font-size:16.0px;line-height:20px;text-align:center;transform:scaleX(1.07);transform-origin:center center">10,20</b>
<b class="t d" style="left:985.00px;top:608px;width:160px;font-size:16.0px;line-height:20px;text-align:center;transform:scaleX(1.07);transform-origin:center center">1,2207</b>
<b class="t d" style="left:1068.00px;top:608px;width:160px;font-size:16.0px;line-height:20px;text-align:center;transform:scaleX(1.07);transform-origin:center center">900</b>
<b class="t d" style="left:73.00px;top:671px;width:160px;font-size:16.0px;line-height:20px;text-align:center;transform:scaleX(1.07);transform-origin:center center">800</b>
<b class="t d" style="left:239.00px;top:671px;width:160px;font-size:16.0px;line-height:20px;text-align:center;transform:scaleX(1.07);transform-origin:center center">750</b>
<b class="t d" style="left:321.00px;top:671px;width:160px;font-size:16.0px;line-height:20px;text-align:center;transform:scaleX(1.07);transform-origin:center center">50</b>
<b class="t d" style="left:405.00px;top:671px;width:160px;font-size:16.0px;line-height:20px;text-align:center;transform:scaleX(1.07);transform-origin:center center">110-124</b>
<b class="t d" style="left:487.00px;top:671px;width:160px;font-size:16.0px;line-height:20px;text-align:center;transform:scaleX(1.07);transform-origin:center center">85-95</b>
<b class="t d" style="left:155.00px;top:629px;width:160px;font-size:16.0px;line-height:20px;text-align:center;transform:scaleX(1.07);transform-origin:center center">915</b>
<b class="t d" style="left:570.50px;top:629px;width:160px;font-size:16.0px;line-height:20px;text-align:center;transform:scaleX(1.07);transform-origin:center center">337</b>
<b class="t d" style="left:653.00px;top:629px;width:160px;font-size:16.0px;line-height:20px;text-align:center;transform:scaleX(1.07);transform-origin:center center">632</b>
<b class="t d" style="left:736.00px;top:629px;width:160px;font-size:16.0px;line-height:20px;text-align:center;transform:scaleX(1.07);transform-origin:center center">791</b>
<b class="t d" style="left:819.50px;top:629px;width:160px;font-size:16.0px;line-height:20px;text-align:center;transform:scaleX(1.07);transform-origin:center center">10,4</b>
<b class="t d" style="left:902.00px;top:629px;width:160px;font-size:16.0px;line-height:20px;text-align:center;transform:scaleX(1.07);transform-origin:center center">5,70</b>
<b class="t d" style="left:985.00px;top:629px;width:160px;font-size:16.0px;line-height:20px;text-align:center;transform:scaleX(1.07);transform-origin:center center">1,2297</b>
<b class="t d" style="left:1068.00px;top:629px;width:160px;font-size:16.0px;line-height:20px;text-align:center;transform:scaleX(1.07);transform-origin:center center">600</b>
<b class="t d" style="left:155.00px;top:650px;width:160px;font-size:16.0px;line-height:20px;text-align:center;transform:scaleX(1.07);transform-origin:center center">1173</b>
<b class="t d" style="left:570.50px;top:650px;width:160px;font-size:16.0px;line-height:20px;text-align:center;transform:scaleX(1.07);transform-origin:center center">417</b>
<b class="t d" style="left:653.00px;top:650px;width:160px;font-size:16.0px;line-height:20px;text-align:center;transform:scaleX(1.07);transform-origin:center center">792</b>
<b class="t d" style="left:736.00px;top:650px;width:160px;font-size:16.0px;line-height:20px;text-align:center;transform:scaleX(1.07);transform-origin:center center">995</b>
<b class="t d" style="left:819.50px;top:650px;width:160px;font-size:16.0px;line-height:20px;text-align:center;transform:scaleX(1.07);transform-origin:center center">14,0</b>
<b class="t d" style="left:902.00px;top:650px;width:160px;font-size:16.0px;line-height:20px;text-align:center;transform:scaleX(1.07);transform-origin:center center">7,40</b>
<b class="t d" style="left:985.00px;top:650px;width:160px;font-size:16.0px;line-height:20px;text-align:center;transform:scaleX(1.07);transform-origin:center center">1,255</b>
<b class="t d" style="left:1068.00px;top:650px;width:160px;font-size:16.0px;line-height:20px;text-align:center;transform:scaleX(1.07);transform-origin:center center">900</b>
<b class="t d" style="left:155.00px;top:671px;width:160px;font-size:16.0px;line-height:20px;text-align:center;transform:scaleX(1.07);transform-origin:center center">1402</b>
<b class="t d" style="left:570.50px;top:671px;width:160px;font-size:16.0px;line-height:20px;text-align:center;transform:scaleX(1.07);transform-origin:center center">497</b>
<b class="t d" style="left:653.00px;top:671px;width:160px;font-size:16.0px;line-height:20px;text-align:center;transform:scaleX(1.07);transform-origin:center center">936</b>
<b class="t d" style="left:736.00px;top:671px;width:160px;font-size:16.0px;line-height:20px;text-align:center;transform:scaleX(1.07);transform-origin:center center">1173</b>
<b class="t d" style="left:819.50px;top:671px;width:160px;font-size:16.0px;line-height:20px;text-align:center;transform:scaleX(1.07);transform-origin:center center">16,7</b>
<b class="t d" style="left:902.00px;top:671px;width:160px;font-size:16.0px;line-height:20px;text-align:center;transform:scaleX(1.07);transform-origin:center center">9,00</b>
<b class="t d" style="left:985.00px;top:671px;width:160px;font-size:16.0px;line-height:20px;text-align:center;transform:scaleX(1.07);transform-origin:center center">1,238</b>
<b class="t d" style="left:1068.00px;top:671px;width:160px;font-size:16.0px;line-height:20px;text-align:center;transform:scaleX(1.07);transform-origin:center center">900</b>
<b class="t d" style="left:155.00px;top:692px;width:160px;font-size:16.0px;line-height:20px;text-align:center;transform:scaleX(1.07);transform-origin:center center">1574</b>
<b class="t d" style="left:570.50px;top:692px;width:160px;font-size:16.0px;line-height:20px;text-align:center;transform:scaleX(1.07);transform-origin:center center">561</b>
<b class="t d" style="left:653.00px;top:692px;width:160px;font-size:16.0px;line-height:20px;text-align:center;transform:scaleX(1.07);transform-origin:center center">1049</b>
<b class="t d" style="left:736.00px;top:692px;width:160px;font-size:16.0px;line-height:20px;text-align:center;transform:scaleX(1.07);transform-origin:center center">1311</b>
<b class="t d" style="left:819.50px;top:692px;width:160px;font-size:16.0px;line-height:20px;text-align:center;transform:scaleX(1.07);transform-origin:center center">18,8</b>
<b class="t d" style="left:902.00px;top:692px;width:160px;font-size:16.0px;line-height:20px;text-align:center;transform:scaleX(1.07);transform-origin:center center">10,10</b>
<b class="t d" style="left:985.00px;top:692px;width:160px;font-size:16.0px;line-height:20px;text-align:center;transform:scaleX(1.07);transform-origin:center center">1,2253</b>
<b class="t d" style="left:1068.00px;top:692px;width:160px;font-size:16.0px;line-height:20px;text-align:center;transform:scaleX(1.07);transform-origin:center center">900</b>
<b class="t d" style="left:155.00px;top:714px;width:160px;font-size:16.0px;line-height:20px;text-align:center;transform:scaleX(1.07);transform-origin:center center">1746</b>
<b class="t d" style="left:570.50px;top:714px;width:160px;font-size:16.0px;line-height:20px;text-align:center;transform:scaleX(1.07);transform-origin:center center">626</b>
<b class="t d" style="left:653.00px;top:714px;width:160px;font-size:16.0px;line-height:20px;text-align:center;transform:scaleX(1.07);transform-origin:center center">1163</b>
<b class="t d" style="left:736.00px;top:714px;width:160px;font-size:16.0px;line-height:20px;text-align:center;transform:scaleX(1.07);transform-origin:center center">1451</b>
<b class="t d" style="left:819.50px;top:714px;width:160px;font-size:16.0px;line-height:20px;text-align:center;transform:scaleX(1.07);transform-origin:center center">20,8</b>
<b class="t d" style="left:902.00px;top:714px;width:160px;font-size:16.0px;line-height:20px;text-align:center;transform:scaleX(1.07);transform-origin:center center">11,30</b>
<b class="t d" style="left:985.00px;top:714px;width:160px;font-size:16.0px;line-height:20px;text-align:center;transform:scaleX(1.07);transform-origin:center center">1,2125</b>
<b class="t d" style="left:1068.00px;top:714px;width:160px;font-size:16.0px;line-height:20px;text-align:center;transform:scaleX(1.07);transform-origin:center center">1200</b>
</div>
</body>
</html>
